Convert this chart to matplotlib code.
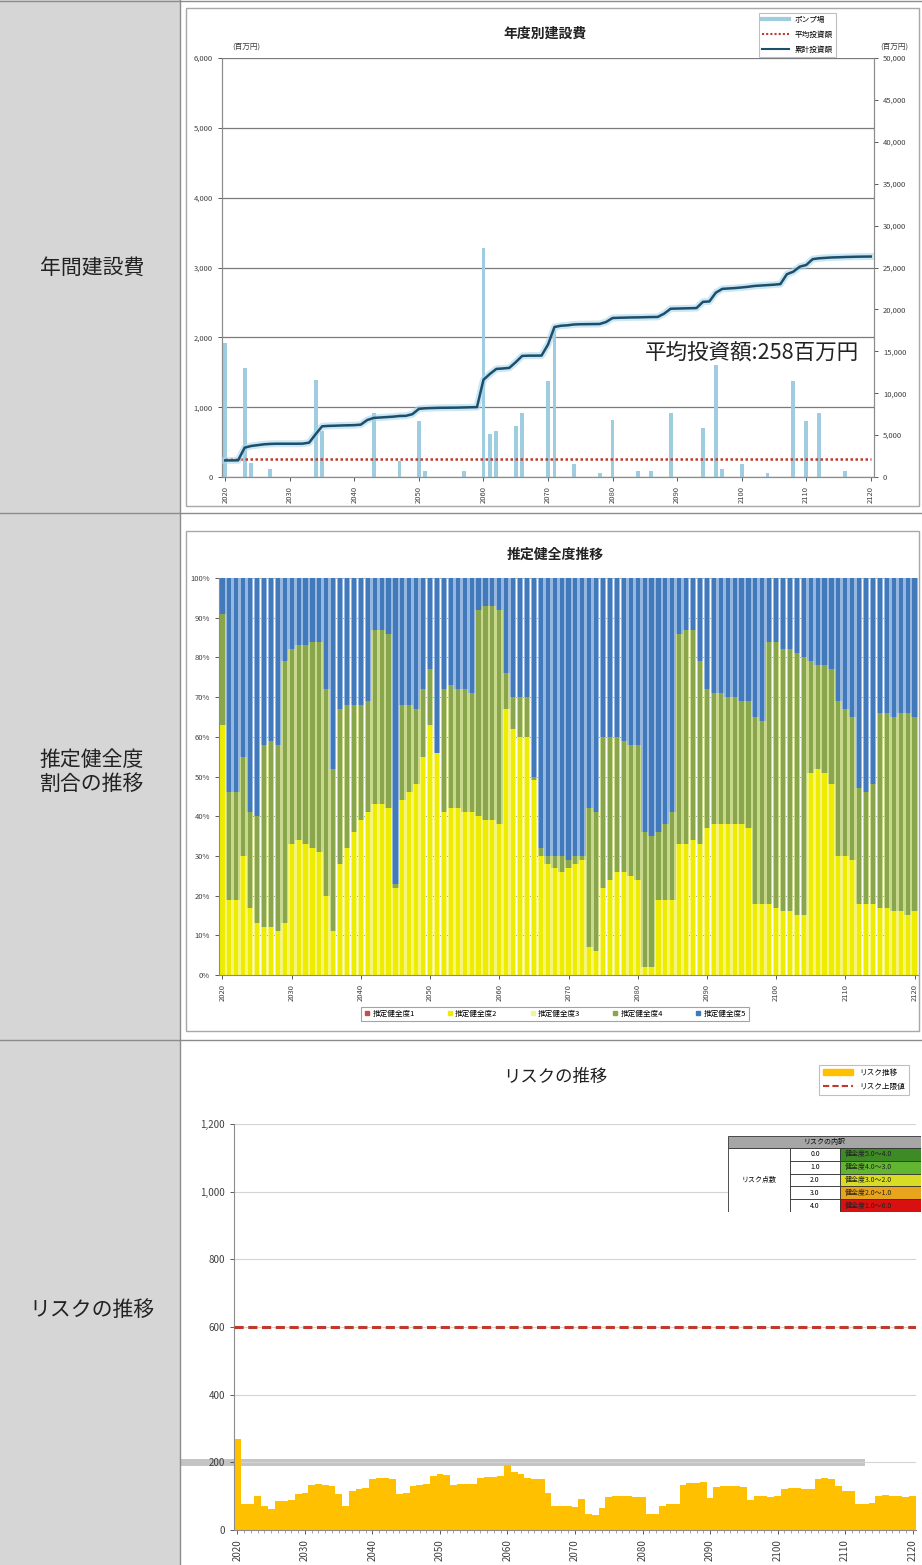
import matplotlib
matplotlib.use('Agg')
import matplotlib.pyplot as plt
from matplotlib.lines import Line2D
from matplotlib.patches import Rectangle, Patch

plt.rcParams['font.family'] = ['Noto Sans CJK JP', 'DejaVu Sans']

W, H = 922, 1565

years = list(range(2020, 2121))
decades = list(range(2020, 2121, 10))

# 年度別建設費 (百万円) - ポンプ場
pump_years = [2020, 2023, 2024, 2027, 2034, 2035, 2043, 2047, 2050, 2051, 2057,
              2060, 2061, 2062, 2065, 2066, 2070, 2071, 2074, 2078, 2080, 2084,
              2086, 2089, 2094, 2096, 2097, 2100, 2104, 2108, 2110, 2112, 2116]
pump_cost = [1920, 1560, 200, 110, 1390, 660, 920, 230, 800, 90, 90,
             3280, 610, 660, 730, 920, 1370, 2100, 180, 60, 820, 90,
             90, 920, 700, 1610, 110, 180, 60, 1370, 800, 920, 90]
avg_cost = 258
cumulative_cost = [1980, 1980, 1990, 3500, 3700, 3800, 3900, 3950, 3970, 3970,
                   3970, 3970, 3980, 4100, 5100, 6050, 6100, 6120, 6150, 6170,
                   6190, 6250, 6800, 7050, 7100, 7150, 7200, 7280, 7300, 7500,
                   8130, 8200, 8230, 8250, 8260, 8270, 8280, 8300, 8320, 8340,
                   11600, 12300, 12900, 12950, 13020, 13700, 14450, 14480, 14480, 14490,
                   15800, 17900, 18050, 18100, 18200, 18230, 18240, 18250, 18260, 18500,
                   18970, 19000, 19020, 19040, 19050, 19070, 19090, 19100, 19500, 20080,
                   20100, 20120, 20140, 20160, 20900, 20950, 22000, 22450, 22500, 22550,
                   22620, 22700, 22800, 22850, 22900, 22950, 23020, 24200, 24500, 25100,
                   25300, 26000, 26100, 26150, 26200, 26220, 26250, 26270, 26290, 26300,
                   26310]

# 推定健全度推移 (%): upper edge of 健全度2 and of 健全度4, rest is 健全度5
kenzen2_top = [63, 19, 19, 30, 17, 13, 12, 12, 11, 13,
               33, 34, 33, 32, 31, 20, 11, 28, 32, 36,
               39, 41, 43, 43, 42, 22, 44, 46, 48, 55,
               63, 56, 41, 42, 42, 41, 41, 40, 39, 39,
               38, 67, 62, 60, 60, 49, 30, 28, 27, 26,
               27, 28, 29, 7, 6, 22, 24, 26, 26, 25,
               24, 2, 2, 19, 19, 19, 33, 33, 34, 33,
               37, 38, 38, 38, 38, 38, 37, 18, 18, 18,
               17, 16, 16, 15, 15, 51, 52, 51, 48, 30,
               30, 29, 18, 18, 18, 17, 17, 16, 16, 15,
               16]
kenzen4_top = [91, 46, 46, 55, 41, 40, 58, 59, 58, 79,
               82, 83, 83, 84, 84, 72, 52, 67, 68, 68,
               68, 69, 87, 87, 86, 23, 68, 68, 67, 72,
               77, 56, 72, 73, 72, 72, 71, 92, 93, 93,
               92, 76, 70, 70, 70, 50, 32, 30, 30, 30,
               29, 30, 30, 42, 41, 60, 60, 60, 59, 58,
               58, 36, 35, 36, 38, 41, 86, 87, 87, 79,
               72, 71, 71, 70, 70, 69, 69, 65, 64, 84,
               84, 82, 82, 81, 80, 79, 78, 78, 77, 69,
               67, 65, 47, 46, 48, 66, 66, 65, 66, 66,
               65]
kenzen_labels = ['推定健全度1', '推定健全度2', '推定健全度3', '推定健全度4', '推定健全度5']

# リスクの推移
risk = [270, 76, 78, 100, 71, 61, 85, 85, 88, 105,
        108, 134, 136, 134, 130, 105, 71, 115, 120, 124,
        150, 153, 155, 150, 105, 108, 129, 132, 135, 160,
        165, 163, 134, 135, 136, 137, 155, 158, 158, 160,
        192, 170, 166, 155, 152, 150, 110, 72, 70, 71,
        68, 92, 48, 45, 66, 98, 100, 101, 100, 99,
        98, 47, 48, 72, 76, 78, 134, 138, 140, 143,
        95, 128, 129, 129, 130, 128, 90, 100, 101, 99,
        100, 122, 124, 124, 121, 120, 152, 153, 150, 129,
        115, 116, 77, 76, 80, 100, 102, 101, 100, 99,
        100]
risk_limit = 600
risk_points = ['0.0', '1.0', '2.0', '3.0', '4.0']
risk_ranges = ['健全度5.0～4.0', '健全度4.0～3.0', '健全度3.0～2.0', '健全度2.0～1.0', '健全度1.0～0.0']
risk_colors = ['#3d8a27', '#62b530', '#d8dc22', '#e8a41c', '#d81010']

row_titles = ['年間建設費', '推定健全度\n割合の推移', 'リスクの推移']


def rect(x0, y0, x1, y1):
    return [x0 / W, 1 - y1 / H, (x1 - x0) / W, (y1 - y0) / H]


def fx(x):
    return x / W


def fy(y):
    return 1 - y / H


fig = plt.figure(figsize=(W / 100, H / 100), dpi=100)

# ---- table frame ----
fig.patches.append(Rectangle((0, 0), fx(180), 1, transform=fig.transFigure,
                             facecolor='#d6d6d6', edgecolor='none', zorder=-3))
line_kw = dict(transform=fig.transFigure, color='#8c8c8c', lw=1)
fig.add_artist(Line2D([fx(180), fx(180)], [0, 1], **line_kw))
for yy in [1, 513, 1040]:
    fig.add_artist(Line2D([0, 1], [fy(yy), fy(yy)], **line_kw))
for title, yy in zip(row_titles, [268, 772, 1310]):
    fig.text(fx(92), fy(yy), title, ha='center', va='center', fontsize=15,
             linespacing=1.15, color='#222222')

for y0, y1 in [(8, 506), (531, 1031)]:
    fig.patches.append(Rectangle((fx(186), fy(y1)), fx(919) - fx(186), fy(y0) - fy(y1),
                                 transform=fig.transFigure, facecolor='white',
                                 edgecolor='#a8a8a8', lw=1, zorder=-1))

tick_kw = dict(labelsize=5.5, colors='#404040', length=3, width=0.6)

# ---- 年度別建設費 ----
ax1 = fig.add_axes(rect(222, 58, 874, 477))
ax1.patch.set_alpha(0)
ax1.bar(pump_years, pump_cost, width=0.6, color='#9fcde0', zorder=2)
ax1.plot([years[0], years[-1]], [avg_cost, avg_cost], color='#c0392b', lw=1.8,
         ls=(0, (1, 1)), zorder=3)
ax1.set_xlim(2019.5, 2120.5)
ax1.set_ylim(0, 6000)
ax1.set_yticks(range(0, 6001, 1000))
ax1.set_yticklabels(['{:,}'.format(v) for v in range(0, 6001, 1000)])
ax1.set_xticks(decades)
ax1.set_xticklabels([str(d) for d in decades], rotation=90)
ax1.yaxis.grid(True, color='#7a7a7a', lw=0.9)
ax1.set_axisbelow(True)
ax1.tick_params(**tick_kw)
ax1.spines['top'].set_visible(False)
for s in ['left', 'bottom', 'right']:
    ax1.spines[s].set_color('#8c8c8c')

ax2 = ax1.twinx()
ax2.plot(years, cumulative_cost, color='#a8d8ec', lw=5, alpha=0.6, zorder=3)
ax2.plot(years, cumulative_cost, color='#1d4e6b', lw=1.8, zorder=4)
ax2.set_ylim(0, 50000)
ax2.set_yticks(range(0, 50001, 5000))
ax2.set_yticklabels(['{:,}'.format(v) for v in range(0, 50001, 5000)])
ax2.tick_params(**tick_kw)
ax2.spines['top'].set_visible(False)
for s in ['left', 'bottom', 'right']:
    ax2.spines[s].set_color('#8c8c8c')

fig.text(fx(545), fy(34), '年度別建設費', ha='center', va='center', fontsize=10,
         fontweight='bold', color='#222222')
fig.text(fx(232), fy(47), '(百万円)', ha='left', va='center', fontsize=5.5, color='#404040')
fig.text(fx(880), fy(47), '(百万円)', ha='left', va='center', fontsize=5.5, color='#404040')
fig.text(fx(752), fy(353), '平均投資額:{}百万円'.format(avg_cost), ha='center', va='center',
         fontsize=15.5, color='#222222')

leg1 = fig.legend([Line2D([], [], color='#9fcde0', lw=3),
                   Line2D([], [], color='#c0392b', lw=1.5, ls=(0, (1, 1))),
                   Line2D([], [], color='#1d4e6b', lw=1.5)],
                  ['ポンプ場', '平均投資額', '累計投資額'],
                  loc='upper left', bbox_to_anchor=(fx(755), fy(9)), fontsize=5.5,
                  frameon=True, fancybox=False, edgecolor='#b0b0b0',
                  handlelength=3.5, borderpad=0.4, labelspacing=0.9)
leg1.get_frame().set_linewidth(0.8)

# ---- 推定健全度推移 ----
axm = fig.add_axes(rect(219, 578, 918, 975))
seg2 = kenzen2_top
seg4 = [g - y for g, y in zip(kenzen4_top, kenzen2_top)]
seg5 = [100 - g for g in kenzen4_top]
segments = [(seg2, [0] * len(years), '#eeec00', '#f6f47a'),
            (seg4, kenzen2_top, '#8aa64c', '#c8d98e'),
            (seg5, kenzen4_top, '#4279bb', '#96b8e0')]
for vals, base, dark, light in segments:
    axm.bar(years, [v / 100 for v in vals], bottom=[b / 100 for b in base],
            width=0.95, color=light, zorder=2)
    axm.bar(years, [v / 100 for v in vals], bottom=[b / 100 for b in base],
            width=0.6, color=dark, zorder=2)
axm.set_xlim(2019.5, 2120.5)
axm.set_ylim(0, 1)
axm.set_yticks([i / 10 for i in range(11)])
axm.set_yticklabels(['{}%'.format(i * 10) for i in range(11)])
axm.set_xticks(decades)
axm.set_xticklabels([str(d) for d in decades], rotation=90)
axm.yaxis.grid(True, color='#9a9a9a', lw=0.6)
axm.set_axisbelow(True)
axm.tick_params(**tick_kw)
for s in ['top', 'right']:
    axm.spines[s].set_visible(False)
for s in ['left', 'bottom']:
    axm.spines[s].set_color('#8c8c8c')

fig.text(fx(555), fy(555), '推定健全度推移', ha='center', va='center', fontsize=10,
         fontweight='bold', color='#222222')

kenzen_colors = ['#c0504d', '#eeec00', '#f4f2a0', '#8aa64c', '#4279bb']
legm = fig.legend([Line2D([], [], marker='s', ls='', color=c, markersize=3) for c in kenzen_colors],
                  kenzen_labels, loc='center', bbox_to_anchor=(fx(555), fy(1014)), ncol=5,
                  fontsize=5.5, frameon=True, fancybox=False, edgecolor='#8c8c8c',
                  handlelength=0.8, handletextpad=0.3, columnspacing=4.2, borderpad=0.35)
legm.get_frame().set_linewidth(0.8)

# ---- リスクの推移 ----
axb = fig.add_axes(rect(234, 1124, 916, 1530))
axb.axhline(200, xmin=-0.075, xmax=0.92, clip_on=False, color='#c4c4c4', lw=5, zorder=0.3)
axb.bar(years, risk, width=1.0, color='#ffc000', zorder=2)
axb.axhline(risk_limit, color='#c0392b', lw=2.2, ls=(0, (3, 1.5)), zorder=3)
axb.set_xlim(2019.5, 2120.5)
axb.set_ylim(0, 1200)
axb.set_yticks(range(0, 1201, 200))
axb.set_yticklabels(['{:,}'.format(v) for v in range(0, 1201, 200)])
axb.set_xticks(decades)
axb.set_xticklabels([str(d) for d in decades], rotation=90)
axb.set_xticks(years, minor=True)
axb.yaxis.grid(True, color='#d4d4d4', lw=0.8)
axb.set_axisbelow(True)
axb.tick_params(**tick_kw)
axb.tick_params(axis='both', which='major', labelsize=7)
axb.tick_params(axis='x', which='minor', length=2, width=0.5, colors='#808080')
for s in ['top', 'right']:
    axb.spines[s].set_visible(False)
for s in ['left', 'bottom']:
    axb.spines[s].set_color('#8c8c8c')

fig.text(fx(555), fy(1077), 'リスクの推移', ha='center', va='center', fontsize=12.5,
         color='#222222')

legb = fig.legend([Patch(color='#ffc000'),
                   Line2D([], [], color='#c0392b', lw=1.5, ls=(0, (3, 1.5)))],
                  ['リスク推移', 'リスク上限値'], loc='upper left',
                  bbox_to_anchor=(fx(815), fy(1061)), fontsize=5.5, frameon=True,
                  fancybox=False, edgecolor='#b0b0b0', handlelength=4,
                  borderpad=0.5, labelspacing=0.8)
legb.get_frame().set_linewidth(0.8)

# リスクの内訳 table
axt = fig.add_axes(rect(728, 1136, 921, 1212))
axt.set_xlim(728, 921)
axt.set_ylim(1212, 1136)
axt.axis('off')
cell_kw = dict(edgecolor='#333333', lw=0.6)
axt.add_patch(Rectangle((728, 1136), 193, 12, facecolor='#a6a6a6', **cell_kw))
axt.text(824, 1142, 'リスクの内訳', ha='center', va='center', fontsize=5)
axt.add_patch(Rectangle((728, 1148), 62, 64, facecolor='white', **cell_kw))
axt.text(759, 1180, 'リスク点数', ha='center', va='center', fontsize=5)
row_h = 64 / len(risk_points)
for i, (pt, rng, col) in enumerate(zip(risk_points, risk_ranges, risk_colors)):
    y0 = 1148 + i * row_h
    axt.add_patch(Rectangle((790, y0), 50, row_h, facecolor='white', **cell_kw))
    axt.text(815, y0 + row_h / 2, pt, ha='center', va='center', fontsize=5)
    axt.add_patch(Rectangle((840, y0), 81, row_h, facecolor=col, **cell_kw))
    axt.text(845, y0 + row_h / 2, rng, ha='left', va='center', fontsize=5,
             color='#222222', clip_on=True)

fig.savefig('out.png', dpi=100)
